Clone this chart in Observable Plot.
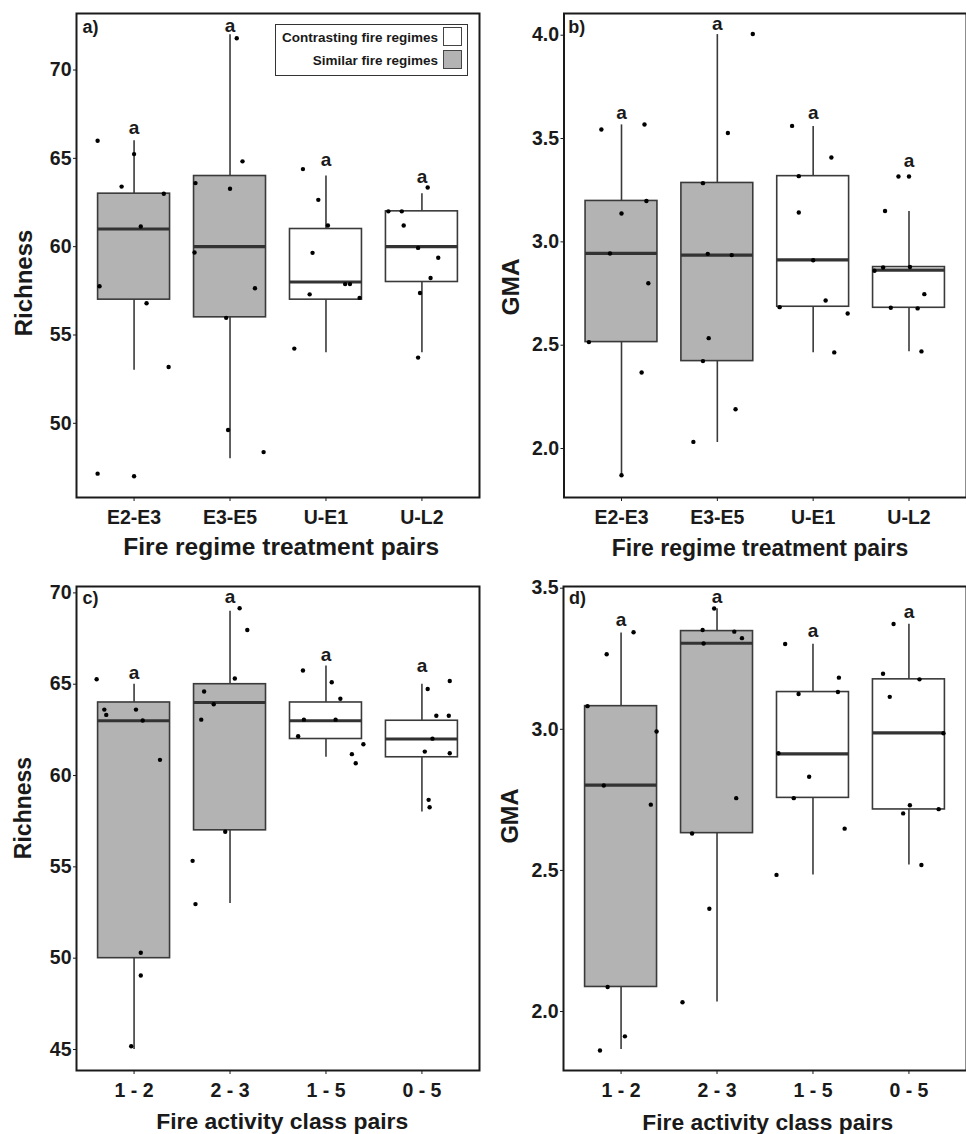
<!DOCTYPE html>
<html>
<head>
<meta charset="utf-8">
<script src="https://cdn.jsdelivr.net/npm/d3@7"></script>
<script src="https://cdn.jsdelivr.net/npm/@observablehq/plot@0.6"></script>
<style>
  body { margin: 0; background: #fff; }
  #fig { position: relative; width: 966px; height: 1134px; overflow: hidden; background: #fff;
         font-family: "Liberation Sans", Arial, Helvetica, sans-serif; font-weight: bold; color: #1a1a1a; }
  .panel { position: absolute; }
  .t { position: absolute; white-space: nowrap; line-height: 1; }
  .c { transform: translate(-50%, 0); }
  .rot { transform: translate(-50%, -50%) rotate(-90deg); }
  #legend { position: absolute; left: 275px; top: 24px; width: 193px; height: 52px; border: 1.5px solid #333;
            box-sizing: border-box; background: #fff; }
  #legend .lt { position: absolute; right: 29px; font-size: 13.5px; line-height: 1; white-space: nowrap; }
  #legend .key { position: absolute; left: 166.5px; width: 19px; height: 19px; border: 1.5px solid #444; box-sizing: border-box; }
</style>
</head>
<body>
<div id="fig"></div>
<script>
// ---------- categories ----------
const fireRegimePairs = ["E2-E3", "E3-E5", "U-E1", "U-L2"];
const fireClassPairs = ["1 - 2", "2 - 3", "1 - 5", "0 - 5"];
const regimeType = ["Similar fire regimes", "Similar fire regimes", "Contrasting fire regimes", "Contrasting fire regimes"];
const legendTypes = ["Contrasting fire regimes", "Similar fire regimes"];
const legendFills = ["#ffffff", "#b3b3b3"];
const sigLetters = ["a", "a", "a", "a"];

// ---------- box summaries: [whisker low, Q1, median, Q3, whisker high] ----------
const richRegimeBox = [[53, 57, 61, 63, 66], [48, 56, 60, 64, 72], [54, 57, 58, 61, 64], [54, 58, 60, 62, 63]];
const gmaRegimeBox  = [[1.871, 2.515, 2.944, 3.198, 3.566], [2.029, 2.423, 2.936, 3.285, 4.003],
                       [2.463, 2.686, 2.913, 3.318, 3.558], [2.468, 2.681, 2.863, 2.878, 3.147]];
const richClassBox  = [[45, 50, 63, 64, 65], [53, 57, 64, 65, 69], [61, 62, 63, 64, 66], [58, 61, 62, 63, 65]];
const gmaClassBox   = [[1.865, 2.087, 2.802, 3.082, 3.341], [2.034, 2.632, 3.305, 3.348, 3.427],
                       [2.484, 2.757, 2.913, 3.132, 3.301], [2.519, 2.716, 2.987, 3.177, 3.372]];

// ---------- observations: [group (1-4), value, horizontal jitter in group units] ----------
const richRegimePts = [
  [1, 66.0, -0.38], [1, 65.24, 0.0], [1, 63.4, -0.13], [1, 63.0, 0.31], [1, 61.14, 0.07],
  [1, 57.76, -0.36], [1, 56.8, 0.13], [1, 53.19, 0.36], [1, 47.15, -0.38], [1, 47.0, 0.0],
  [2, 71.8, 0.07], [2, 64.83, 0.13], [2, 63.28, 0.0], [2, 63.6, -0.36], [2, 59.67, -0.37],
  [2, 57.65, 0.26], [2, 55.97, -0.04], [2, 49.62, -0.02], [2, 48.37, 0.35],
  [3, 64.39, -0.24], [3, 62.65, -0.08], [3, 61.2, 0.02], [3, 59.65, -0.14], [3, 57.88, 0.2],
  [3, 57.88, 0.25], [3, 57.3, -0.17], [3, 57.1, 0.35], [3, 54.23, -0.33],
  [4, 63.35, 0.06], [4, 62.0, -0.35], [4, 62.0, -0.21], [4, 61.2, -0.19], [4, 59.93, -0.04],
  [4, 59.37, 0.17], [4, 58.23, 0.09], [4, 57.38, -0.02], [4, 53.72, -0.04]
];
const gmaRegimePts = [
  [1, 3.544, -0.21], [1, 3.568, 0.24], [1, 3.198, 0.26], [1, 3.137, 0.0], [1, 2.944, -0.12],
  [1, 2.80, 0.28], [1, 2.515, -0.34], [1, 2.368, 0.21], [1, 1.871, 0.0],
  [2, 4.006, 0.37], [2, 3.527, 0.11], [2, 3.284, -0.15], [2, 2.942, -0.10], [2, 2.936, 0.15],
  [2, 2.534, -0.09], [2, 2.423, -0.15], [2, 2.19, 0.19], [2, 2.032, -0.25],
  [3, 3.561, -0.22], [3, 3.408, 0.19], [3, 3.318, -0.15], [3, 3.142, -0.15], [3, 2.911, 0.0],
  [3, 2.716, 0.13], [3, 2.684, -0.35], [3, 2.653, 0.36], [3, 2.465, 0.22],
  [4, 3.316, -0.11], [4, 3.316, 0.0], [4, 3.149, -0.25], [4, 2.876, -0.27], [4, 2.878, 0.01],
  [4, 2.86, -0.36], [4, 2.747, 0.16], [4, 2.681, -0.19], [4, 2.678, 0.09], [4, 2.47, 0.13]
];
const richClassPts = [
  [1, 65.27, -0.39], [1, 63.61, -0.31], [1, 63.32, -0.29], [1, 63.61, 0.02], [1, 63.01, 0.09],
  [1, 60.86, 0.27], [1, 50.30, 0.07], [1, 49.05, 0.07], [1, 45.18, -0.03],
  [2, 69.16, 0.10], [2, 67.97, 0.18], [2, 65.31, 0.05], [2, 64.6, -0.27], [2, 63.9, -0.17],
  [2, 63.06, -0.30], [2, 56.92, -0.05], [2, 55.33, -0.39], [2, 52.96, -0.36],
  [3, 65.75, -0.24], [3, 65.11, 0.06], [3, 64.2, 0.15], [3, 63.06, -0.23], [3, 63.06, 0.10],
  [3, 62.15, -0.29], [3, 61.71, 0.39], [3, 61.17, 0.27], [3, 60.67, 0.31],
  [4, 65.18, 0.29], [4, 64.74, 0.06], [4, 63.27, 0.15], [4, 63.27, 0.28], [4, 62.02, 0.11],
  [4, 61.31, 0.03], [4, 61.22, 0.29], [4, 58.67, 0.07], [4, 58.26, 0.08]
];
const gmaClassPts = [
  [1, 3.344, 0.13], [1, 3.266, -0.15], [1, 3.082, -0.35], [1, 2.992, 0.37], [1, 2.801, -0.18],
  [1, 2.733, 0.31], [1, 2.087, -0.14], [1, 1.912, 0.04], [1, 1.862, -0.22],
  [2, 3.428, -0.03], [2, 3.352, -0.15], [2, 3.346, 0.18], [2, 3.323, 0.26], [2, 3.304, -0.14],
  [2, 2.756, 0.20], [2, 2.631, -0.26], [2, 2.364, -0.08], [2, 2.033, -0.36],
  [3, 3.302, -0.29], [3, 3.183, 0.27], [3, 3.132, 0.26], [3, 3.125, -0.15], [3, 2.915, -0.36],
  [3, 2.832, -0.04], [3, 2.756, -0.20], [3, 2.648, 0.33], [3, 2.484, -0.38],
  [4, 3.373, -0.16], [4, 3.197, -0.27], [4, 3.177, 0.11], [4, 3.115, -0.20], [4, 2.986, 0.36],
  [4, 2.731, 0.01], [4, 2.717, 0.31], [4, 2.702, -0.06], [4, 2.519, 0.13]
];

// ---------- significance letter heights ----------
const richRegimeLetterY = [66.7, 72.5, 64.9, 63.95];
const gmaRegimeLetterY  = [3.626, 4.053, 3.626, 3.392];
const richClassLetterY  = [65.62, 69.76, 66.6, 65.98];
const gmaClassLetterY   = [3.387, 3.469, 3.349, 3.416];

// ---------- axis ticks ----------
const richRegimeTicks = [50, 55, 60, 65, 70];
const gmaRegimeTicks  = [2.0, 2.5, 3.0, 3.5, 4.0];
const richClassTicks  = [45, 50, 55, 60, 65, 70];
const gmaClassTicks   = [2.0, 2.5, 3.0, 3.5];

const FONT = '"Liberation Sans", Arial, Helvetica, sans-serif';
const TICK_FS = 19.5;

function panel({cats, box, pts, letterY, yDomain, yTicks, yFormat, width, height, mt, mb, ml, mr}) {
  const boxes = cats.map((c, i) => ({
    i: i + 1, cat: c, type: regimeType[i],
    lo: box[i][0], q1: box[i][1], med: box[i][2], q3: box[i][3], hi: box[i][4],
    ly: letterY[i], letter: sigLetters[i]
  }));
  const dots = pts.map(([g, v, j]) => ({x: g + j, y: v}));
  const half = 0.375;
  const edge = "#3a3a3a";
  return Plot.plot({
    width, height,
    marginTop: mt, marginBottom: mb, marginLeft: ml, marginRight: mr,
    x: {type: "linear", domain: [0.4, 4.6]},
    y: {domain: yDomain},
    color: {domain: legendTypes, range: legendFills},
    style: {fontFamily: FONT, fontWeight: "bold", fontSize: TICK_FS + "px", color: "#1a1a1a", background: "transparent", overflow: "visible"},
    marks: [
      Plot.ruleX(boxes, {x: "i", y1: "lo", y2: "q1", stroke: edge, strokeWidth: 1.6}),
      Plot.ruleX(boxes, {x: "i", y1: "q3", y2: "hi", stroke: edge, strokeWidth: 1.6}),
      Plot.rect(boxes, {x1: d => d.i - half, x2: d => d.i + half, y1: "q1", y2: "q3", fill: "type", stroke: edge, strokeWidth: 1.6}),
      Plot.ruleY(boxes, {y: "med", x1: d => d.i - half, x2: d => d.i + half, stroke: "#333", strokeWidth: 3.2}),
      Plot.dot(dots, {x: "x", y: "y", r: 2.2, fill: "#000", stroke: "none"}),
      Plot.text(boxes, {x: "i", y: "ly", text: "letter", fontSize: 19, fontWeight: "bold", fill: "#1a1a1a"}),
      Plot.frame({stroke: "#1a1a1a", strokeWidth: 2}),
      Plot.axisX({ticks: [1, 2, 3, 4], tickFormat: i => cats[i - 1], tickSize: 4, tickPadding: 9, label: null, fontSize: TICK_FS, fontWeight: "bold"}),
      Plot.axisY({ticks: yTicks, tickFormat: yFormat, tickSize: 3, tickPadding: 2, label: null, fontSize: TICK_FS, fontWeight: "bold"})
    ]
  });
}

const fig = document.getElementById("fig");
function place(node, left, top) {
  const d = document.createElement("div");
  d.className = "panel";
  d.style.left = left + "px";
  d.style.top = top + "px";
  d.appendChild(node);
  fig.appendChild(d);
}
function label(text, cls, left, top, size) {
  const d = document.createElement("div");
  d.className = "t " + cls;
  d.textContent = text;
  d.style.left = left + "px";
  d.style.top = top + "px";
  d.style.fontSize = size + "px";
  fig.appendChild(d);
  return d;
}

const f0 = d => d3.format("d")(d);
const f1 = d => d3.format(".1f")(d);

place(panel({cats: fireRegimePairs, box: richRegimeBox, pts: richRegimePts, letterY: richRegimeLetterY,
  yDomain: [45.8, 73.2], yTicks: richRegimeTicks, yFormat: f0,
  width: 480, height: 560, mt: 13, mb: 63, ml: 76, mr: 1}), 0, 0);
place(panel({cats: fireRegimePairs, box: gmaRegimeBox, pts: gmaRegimePts, letterY: gmaRegimeLetterY,
  yDomain: [1.763, 4.105], yTicks: gmaRegimeTicks, yFormat: f1,
  width: 486, height: 560, mt: 13, mb: 63, ml: 83.5, mr: 0}), 480, 0);
place(panel({cats: fireClassPairs, box: richClassBox, pts: richClassPts, letterY: richClassLetterY,
  yDomain: [43.85, 70.35], yTicks: richClassTicks, yFormat: f0,
  width: 480, height: 574, mt: 26, mb: 64, ml: 76, mr: 1}), 0, 560);
place(panel({cats: fireClassPairs, box: gmaClassBox, pts: gmaClassPts, letterY: gmaClassLetterY,
  yDomain: [1.791, 3.506], yTicks: gmaClassTicks, yFormat: f1,
  width: 486, height: 574, mt: 26, mb: 64, ml: 83, mr: 0}), 480, 560);

// panel tags
label("a)", "", 82.5, 17.5, 18);
label("b)", "", 568.3, 17.8, 18);
label("c)", "", 82.5, 588.5, 18);
label("d)", "", 569, 588.5, 18);

// axis titles (baseline ≈ top + 0.8465 * size)
label("Fire regime treatment pairs", "c", 281.3, 556 - 0.8465 * 24.5, 24.5);
label("Fire regime treatment pairs", "c", 760, 556.7 - 0.8465 * 23, 23);
label("Fire activity class pairs", "c", 282.2, 1129.3 - 0.8465 * 22.9, 22.9);
label("Fire activity class pairs", "c", 767.8, 1130 - 0.8465 * 22.8, 22.8);
label("Richness", "rot", 24.2, 282.5, 24);
label("GMA", "rot", 510.8, 286.5, 24.5);
label("Richness", "rot", 22.5, 807.5, 23);
label("GMA", "rot", 510.8, 815.7, 23.6);

// legend
const lg = document.createElement("div");
lg.id = "legend";
legendTypes.forEach((t, k) => {
  const txt = document.createElement("div");
  txt.className = "lt";
  txt.textContent = t;
  txt.style.top = (5.6 + 23 * k) + "px";
  lg.appendChild(txt);
  const key = document.createElement("div");
  key.className = "key";
  key.style.top = (1.8 + 23.4 * k) + "px";
  key.style.background = legendFills[k];
  lg.appendChild(key);
});
fig.appendChild(lg);
</script>
</body>
</html>
